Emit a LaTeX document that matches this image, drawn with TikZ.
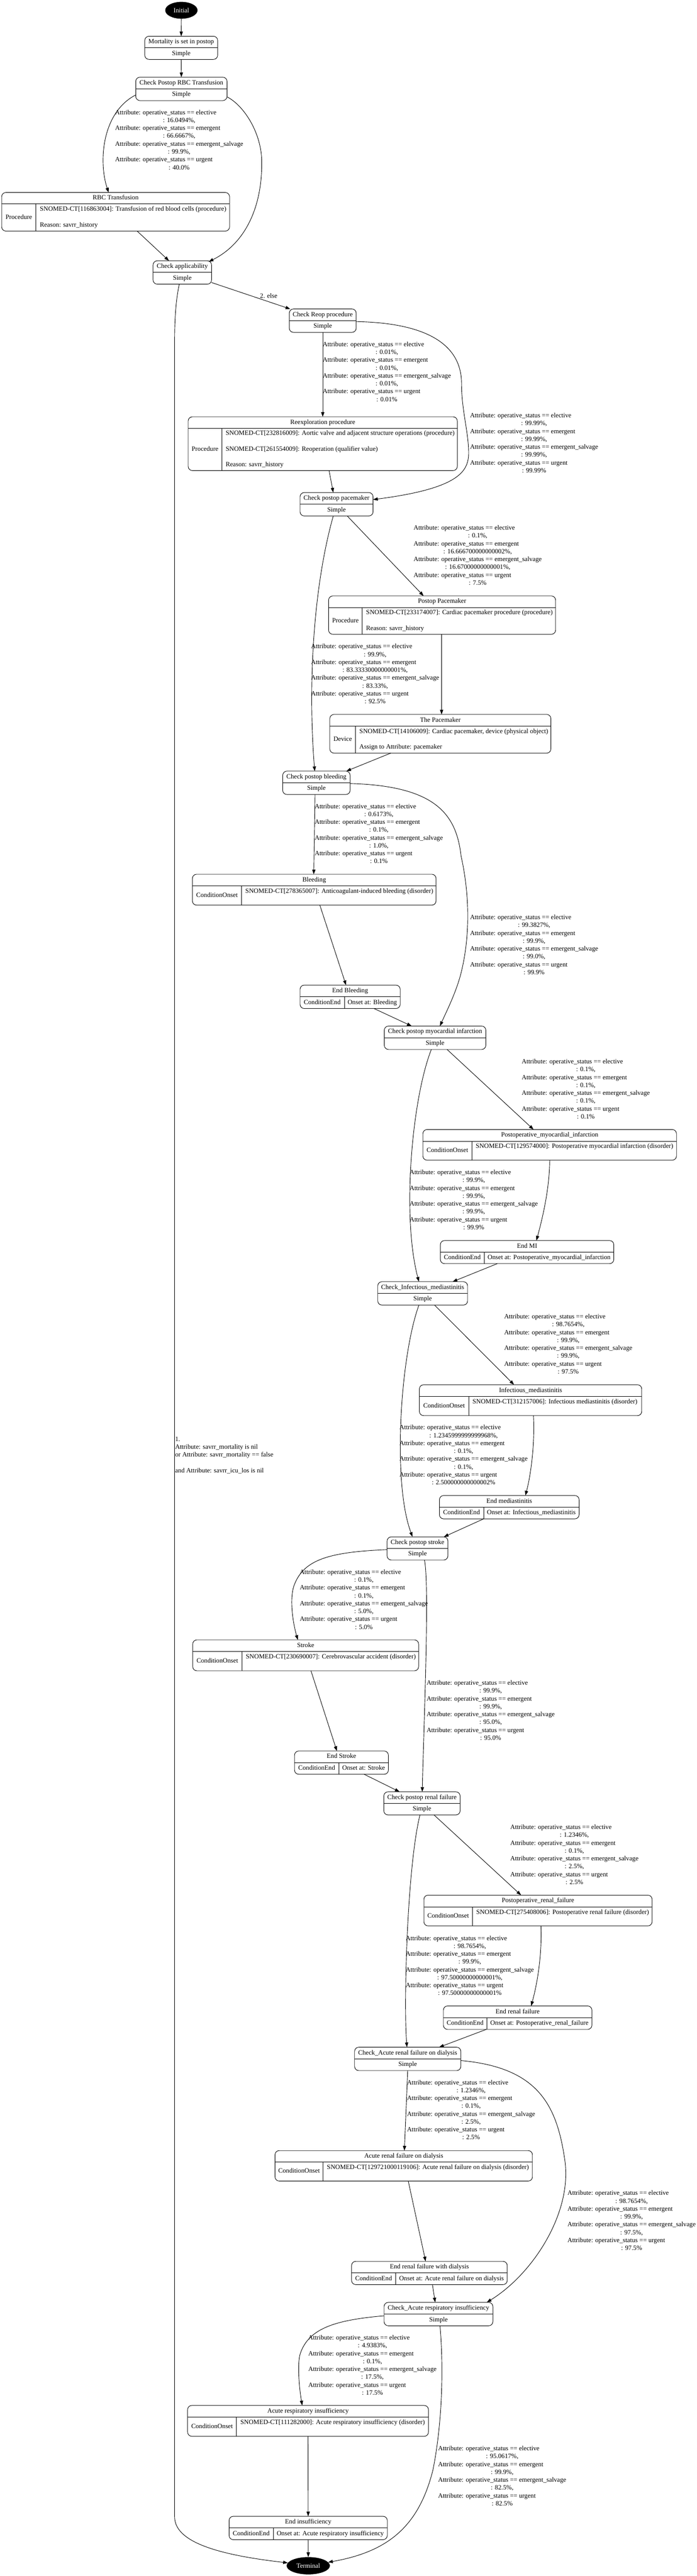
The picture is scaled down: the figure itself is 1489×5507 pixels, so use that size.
\documentclass[tikz,border=0pt]{standalone}
\usepackage{fontspec}
\setmainfont{Liberation Serif}
\usetikzlibrary{arrows.meta,shapes.geometric}

\tikzset{
  recbox/.style={draw, line width=1pt, rounded corners=9pt, inner sep=0pt, outer sep=0pt, rectangle},
  divline/.style={line width=1pt},
  txt/.style={inner sep=0pt, text height=11.76pt, text depth=5.04pt},
  lbl/.style={inner sep=0pt},
  conn/.style={line width=1pt, -{Triangle[length=10pt,width=7pt]}},
  termnode/.style={ellipse, fill=black, text=white, inner sep=0pt, outer sep=0pt},
}

% name, x1, x2, y1, ydiv, y2, title
\newcommand{\simplestate}[7]{%
  \node[recbox, minimum width={(#3-#2)*1pt}, minimum height={(#6-#4)*1pt}] (#1) at ({(#2+#3)/2},{(#4+#6)/2}) {};
  \draw[divline] (#2,#5) -- (#3,#5);
  \node[txt] (#1-title) at ({(#2+#3)/2},{(#4+#5)/2}) {#7};
  \node[txt] (#1-type) at ({(#2+#3)/2},{(#5+#6)/2}) {Simple};
}
% name, x1, x2, y1, ydiv, y2, xdiv, title, kind
\newcommand{\detailstate}[9]{%
  \node[recbox, minimum width={(#3-#2)*1pt}, minimum height={(#6-#4)*1pt}] (#1) at ({(#2+#3)/2},{(#4+#6)/2}) {};
  \draw[divline] (#2,#5) -- (#3,#5);
  \draw[divline] (#7,#5) -- (#7,#6);
  \node[txt] (#1-title) at ({(#2+#3)/2},{(#4+#5)/2}) {#8};
  \node[txt] (#1-kind) at ({(#2+#7)/2},{(#5+#6)/2}) {#9};
  \gdef\dsxdiv{#7}\gdef\dsydiv{#5}\gdef\dsytwo{#6}\gdef\dsxtwo{#3}%
}
\newcommand{\leftcontent}[2]{%
  \node[lbl, anchor=west] (#1) at ({\dsxdiv+8},{(\dsydiv+\dsytwo)/2}) {\begin{tabular}{@{}l@{}}#2\end{tabular}};}
\newcommand{\centercontent}[2]{%
  \node[txt] (#1) at ({(\dsxdiv+\dsxtwo)/2},{(\dsydiv+\dsytwo)/2}) {#2};}
% name, xleft, ycenter, four values
\newcommand{\opst}[7]{%
  \node[lbl, anchor=west] (#1) at (#2,#3) {\begin{tabular}{@{}l@{}}
    Attribute: operative\_status == elective\\
    \multicolumn{1}{@{}c@{}}{: #4,}\\
    Attribute: operative\_status == emergent\\
    \multicolumn{1}{@{}c@{}}{: #5,}\\
    Attribute: operative\_status == emergent\_salvage\\
    \multicolumn{1}{@{}c@{}}{: #6,}\\
    Attribute: operative\_status == urgent\\
    \multicolumn{1}{@{}c@{}}{: #7}
  \end{tabular}};}

\begin{document}
\begin{tikzpicture}[x=1pt, y=-1pt, font=\fontsize{14}{16.8}\selectfont]
\useasboundingbox (0,0) rectangle (1489,5507);
\fill[white] (0,0) rectangle (1489,5507);

% ---------- terminal nodes ----------
\node[termnode, minimum width=69pt, minimum height=36pt] (init) at (387.5,22) {Initial};
\node[termnode, minimum width=92.5pt, minimum height=37pt] (term) at (658.6,5485) {Terminal};

% ---------- simple states ----------
\simplestate{mort}{309.3}{465}{77.5}{102}{127}{Mortality is set in postop}
\simplestate{chkrbc}{290}{485}{165}{190}{215}{Check Postop RBC Transfusion}
\simplestate{chkapp}{327}{452}{557.5}{582.5}{607.5}{Check applicability}
\simplestate{chkreop}{618}{761}{660.5}{685.5}{710.5}{Check Reop procedure}
\simplestate{chkpace}{641}{797}{1053}{1078}{1103}{Check postop pacemaker}
\simplestate{chkbleed}{604}{748}{1648.5}{1673.5}{1698.5}{Check postop bleeding}
\simplestate{chkmi}{821}{1038}{2193.5}{2218.5}{2243.5}{Check postop myocardial infarction}
\simplestate{chkinf}{807}{999}{2740}{2765}{2790}{Check\_Infectious\_mediastinitis}
\simplestate{chkstroke}{827}{957}{3285.5}{3310.5}{3335}{Check postop stroke}
\simplestate{chkrenal}{820}{983}{3830.5}{3855.5}{3880}{Check postop renal failure}
\simplestate{chkarf}{757.5}{984.5}{4376.5}{4401.5}{4426.5}{Check\_Acute renal failure on dialysis}
\simplestate{chkresp}{820.5}{1053}{4922}{4947}{4972}{Check\_Acute respiratory insufficiency}

% ---------- detail states ----------
\detailstate{rbc}{3.6}{490.4}{411.5}{436}{494}{77}{RBC Transfusion}{Procedure}
\leftcontent{rbc-c}{SNOMED-CT[116863004]: Transfusion of red blood cells (procedure)\\ \\ Reason: savrr\_history}
\detailstate{reexp}{402}{977}{891}{915.7}{1006}{474}{Reexploration procedure}{Procedure}
\leftcontent{reexp-c}{SNOMED-CT[232816009]: Aortic valve and adjacent structure operations (procedure)\\ \\ SNOMED-CT[261554009]: Reoperation (qualifier value)\\ \\ Reason: savrr\_history}
\detailstate{ppace}{702}{1187}{1274}{1298.7}{1356}{774}{Postop Pacemaker}{Procedure}
\leftcontent{ppace-c}{SNOMED-CT[233174007]: Cardiac pacemaker procedure (procedure)\\ \\ Reason: savrr\_history}
\detailstate{thepace}{704.6}{1177}{1527.3}{1552.3}{1610}{759.7}{The Pacemaker}{Device}
\leftcontent{thepace-c}{SNOMED-CT[14106009]: Cardiac pacemaker, device (physical object)\\ \\ Assign to Attribute: pacemaker}
\detailstate{bleed}{411}{931.6}{1869}{1894}{1935}{516}{Bleeding}{ConditionOnset}
\leftcontent{bleed-c}{SNOMED-CT[278365007]: Anticoagulant-induced bleeding (disorder)\\ \mbox{}}
\detailstate{endbleed}{641}{855}{2106}{2130.7}{2156}{735.7}{End Bleeding}{ConditionEnd}
\centercontent{endbleed-c}{Onset at: Bleeding}
\detailstate{pmi}{903.4}{1445.3}{2414.7}{2439.6}{2480.2}{1008.3}{Postoperative\_myocardial\_infarction}{ConditionOnset}
\leftcontent{pmi-c}{SNOMED-CT[129574000]: Postoperative myocardial infarction (disorder)\\ \mbox{}}
\detailstate{endmi}{940.7}{1311.4}{2652}{2676.5}{2701.4}{1034.7}{End MI}{ConditionEnd}
\centercontent{endmi-c}{Onset at: Postoperative\_myocardial\_infarction}
\detailstate{inf}{896}{1371}{2960.3}{2985.6}{3026.3}{1001.3}{Infectious\_mediastinitis}{ConditionOnset}
\leftcontent{inf-c}{SNOMED-CT[312157006]: Infectious mediastinitis (disorder)\\ \mbox{}}
\detailstate{endinf}{938.8}{1237.2}{3197.1}{3222.4}{3247}{1033.2}{End mediastinitis}{ConditionEnd}
\centercontent{endinf-c}{Onset at: Infectious\_mediastinitis}
\detailstate{stroke}{411.7}{894.4}{3505.7}{3530.6}{3571.8}{517}{Stroke}{ConditionOnset}
\leftcontent{stroke-c}{SNOMED-CT[230690007]: Cerebrovascular accident (disorder)\\ \mbox{}}
\detailstate{endstroke}{629.2}{829.8}{3743.3}{3767.8}{3793}{723.9}{End Stroke}{ConditionEnd}
\centercontent{endstroke-c}{Onset at: Stroke}
\detailstate{prf}{905.6}{1393.1}{4051.4}{4076.7}{4117.2}{1009.4}{Postoperative\_renal\_failure}{ConditionOnset}
\leftcontent{prf-c}{SNOMED-CT[275408006]: Postoperative renal failure (disorder)\\ \mbox{}}
\detailstate{endrf}{947.2}{1264.6}{4288.3}{4313.5}{4338.4}{1040.3}{End renal failure}{ConditionEnd}
\centercontent{endrf-c}{Onset at: Postoperative\_renal\_failure}
\detailstate{arf}{587.5}{1137.5}{4597.5}{4621.6}{4662.6}{690.3}{Acute renal failure on dialysis}{ConditionOnset}
\leftcontent{arf-c}{SNOMED-CT[129721000119106]: Acute renal failure on dialysis (disorder)\\ \mbox{}}
\detailstate{endarf}{751}{1083.7}{4834.3}{4859}{4884}{845.4}{End renal failure with dialysis}{ConditionEnd}
\centercontent{endarf-c}{Onset at: Acute renal failure on dialysis}
\detailstate{ari}{400.8}{915.4}{5142.3}{5167.3}{5208.3}{505.4}{Acute respiratory insufficiency}{ConditionOnset}
\leftcontent{ari-c}{SNOMED-CT[111282000]: Acute respiratory insufficiency (disorder)\\ \mbox{}}
\detailstate{endari}{489.4}{827.4}{5379.3}{5404}{5429.3}{583.8}{End insufficiency}{ConditionEnd}
\centercontent{endari-c}{Onset at: Acute respiratory insufficiency}

% ---------- edge labels ----------
\opst{lrbc}{245.7}{300.2}{16.0494\%}{66.6667\%}{99.9\%}{40.0\%}
\opst{lreopd}{689.5}{796}{0.01\%}{0.01\%}{0.01\%}{0.01\%}
\opst{lreopr}{1004}{948.3}{99.99\%}{99.99\%}{99.99\%}{99.99\%}
\opst{lpacer}{883.5}{1188.3}{0.1\%}{16.666700000000002\%}{16.67000000000001\%}{7.5\%}
\opst{lpacel}{664.3}{1442}{99.9\%}{83.33330000000001\%}{83.33\%}{92.5\%}
\opst{lbleedd}{672.4}{1783.7}{0.6173\%}{0.1\%}{1.0\%}{0.1\%}
\opst{lbleedr}{1004}{2021}{99.3827\%}{99.9\%}{99.0\%}{99.9\%}
\opst{lmir}{1114.5}{2329.5}{0.1\%}{0.1\%}{0.1\%}{0.1\%}
\opst{lmil}{875.1}{2566.3}{99.9\%}{99.9\%}{99.9\%}{99.9\%}
\opst{linfr}{1077}{2874.6}{98.7654\%}{99.9\%}{99.9\%}{97.5\%}
\opst{linfl}{853.3}{3111.7}{1.2345999999999968\%}{0.1\%}{0.1\%}{2.500000000000002\%}
\opst{lstrokel}{640.3}{3420.7}{0.1\%}{0.1\%}{5.0\%}{5.0\%}
\opst{lstroker}{911.2}{3657.6}{99.9\%}{99.9\%}{95.0\%}{95.0\%}
\opst{lrenalr}{1090.1}{3966.1}{1.2346\%}{0.1\%}{2.5\%}{2.5\%}
\opst{lrenall}{866.7}{4203.5}{98.7654\%}{99.9\%}{97.50000000000001\%}{97.50000000000001\%}
\opst{larfd}{869.4}{4511.8}{1.2346\%}{0.1\%}{2.5\%}{2.5\%}
\opst{larfr}{1212.3}{4748.3}{98.7654\%}{99.9\%}{97.5\%}{97.5\%}
\opst{lrespl}{658.7}{5057.5}{4.9383\%}{0.1\%}{17.5\%}{17.5\%}
\opst{lrespr}{935.8}{5294.3}{95.0617\%}{99.9\%}{82.5\%}{82.5\%}
\node[txt] (lelse) at (574,634) {2. else};
\node[lbl, anchor=west] (lapp) at (374,3111.3) {\begin{tabular}{@{}l@{}}1.\\ Attribute: savrr\_mortality is nil\\ or Attribute: savrr\_mortality == false\\ \\ and Attribute: savrr\_icu\_los is nil\end{tabular}};

% ---------- connectors ----------
\draw[conn] (init.south) -- (mort.north);
\draw[conn] (mort.south) -- (chkrbc.north);
\draw[conn] ([yshift=-13pt]chkrbc.west) .. controls (218,240) and (210,345) .. ([xshift=-15pt]rbc.north);
\draw[conn] ([yshift=-17pt]chkrbc.east) .. controls (520,225) and (556,280) .. (559,339) .. controls (562,440) and (525,520) .. ([xshift=-6pt,yshift=-2pt]chkapp.north east);
\draw[conn] ([xshift=46pt]rbc.south) -- ([xshift=-28.5pt]chkapp.north);
\draw[conn] ([yshift=-21.5pt]chkapp.east) -- ([xshift=2pt]chkreop.north west);
\draw[conn] ([xshift=-6.5pt]chkapp.south) .. controls (376,640) and (373,680) .. (373,730) -- (373,5380) .. controls (373,5430) and (450,5460) .. (term.172);
\draw[conn] (chkreop.south) -- (reexp.north);
\draw[conn] ([yshift=-2pt]chkreop.east) .. controls (900,690) and (986,730) .. (986,820) .. controls (986,880) and (1003,930) .. (1001,975) .. controls (998,1010) and (975,1045) .. ([yshift=10pt]chkpace.east);
\draw[conn] ([xshift=13.5pt]reexp.south) -- ([xshift=-7pt]chkpace.north);
\draw[conn] ([xshift=22.8pt]chkpace.south) -- ([xshift=-39.5pt]ppace.north);
\draw[conn] ([xshift=-7pt]chkpace.south) .. controls (668,1260) and (658,1470) .. ([xshift=-3.6pt]chkbleed.north);
\draw[conn] ([xshift=-1pt]ppace.south) -- ([xshift=2.6pt]thepace.north);
\draw[conn] ([xshift=-106pt]thepace.south) -- ([xshift=-8pt]chkbleed.north east);
\draw[conn] ([xshift=-3pt]chkbleed.south) -- ([xshift=-1pt]bleed.north);
\draw[conn] ([xshift=12pt]bleed.south) -- ([xshift=-8.7pt]endbleed.north);
\draw[conn] ([yshift=-1.5pt]chkbleed.east) .. controls (930,1680) and (975,1740) .. (985,1830) .. controls (1003,1910) and (1005,2000) .. (985,2080) .. controls (975,2120) and (955,2160) .. ([xshift=10.3pt]chkmi.north);
\draw[conn] ([xshift=51pt]endbleed.south) -- ([xshift=-50pt]chkmi.north);
\draw[conn] ([xshift=25.6pt]chkmi.south) -- ([xshift=-34.5pt]pmi.north);
\draw[conn] ([xshift=-8pt]chkmi.south) .. controls (880,2350) and (858,2600) .. ([xshift=-8pt]chkinf.north);
\draw[conn] (pmi.south) .. controls (1174,2540) and (1160,2600) .. ([xshift=20pt]endmi.north);
\draw[conn] ([xshift=-63.6pt]endmi.south) -- ([xshift=64pt]chkinf.north);
\draw[conn] ([xshift=25.5pt]chkinf.south) -- ([xshift=-35.3pt]inf.north);
\draw[conn] ([xshift=-8pt]chkinf.south) .. controls (855,2900) and (838,3170) .. ([xshift=-10.6pt]chkstroke.north);
\draw[conn] ([xshift=6.2pt]inf.south) .. controls (1143,3080) and (1135,3150) .. ([xshift=34.4pt]endinf.north);
\draw[conn] ([xshift=-54.8pt]endinf.south) -- ([xshift=56.3pt]chkstroke.north);
\draw[conn] ([yshift=-2.5pt]chkstroke.west) .. controls (700,3318) and (648,3335) .. (628,3390) .. controls (618,3420) and (626,3470) .. ([xshift=-16.8pt]stroke.north);
\draw[conn] ([xshift=14.9pt]chkstroke.south) .. controls (918,3390) and (905,3700) .. ([xshift=0.6pt]chkrenal.north);
\draw[conn] ([xshift=11.3pt]stroke.south) -- ([xshift=-9.8pt]endstroke.north);
\draw[conn] ([xshift=48.4pt]endstroke.south) -- ([xshift=-47.8pt]chkrenal.north);
\draw[conn] ([xshift=25.8pt]chkrenal.south) -- ([xshift=-36.2pt]prf.north);
\draw[conn] ([xshift=-4.3pt]chkrenal.south) .. controls (870,3990) and (862,4280) .. ([xshift=-1.6pt]chkarf.north);
\draw[conn] ([xshift=6.3pt]prf.south) .. controls (1158,4180) and (1148,4240) .. ([xshift=28.8pt]endrf.north);
\draw[conn] ([xshift=-67pt]endrf.south) -- ([xshift=67.2pt]chkarf.north);
\draw[conn] (chkarf.south) -- ([xshift=1.4pt]arf.north);
\draw[conn] ([yshift=-3.5pt]chkarf.east) .. controls (1150,4420) and (1190,4500) .. (1207,4620) .. controls (1222,4730) and (1140,4860) .. ([xshift=-13pt]chkresp.north east);
\draw[conn] ([xshift=9.7pt]arf.south) -- ([xshift=-8pt]endarf.north);
\draw[conn] ([xshift=6.5pt]endarf.south) -- ([xshift=-7pt]chkresp.north);
\draw[conn] ([yshift=-3.7pt]chkresp.west) .. controls (710,4960) and (660,4980) .. (642,5030) .. controls (634,5052) and (640,5110) .. ([xshift=-12.4pt]ari.north);
\draw[conn] ([xshift=3.2pt]chkresp.south) .. controls (948,5060) and (945,5180) .. (925,5280) .. controls (895,5400) and (830,5455) .. (term.10);
\draw[conn] (ari.south) -- (endari.north);
\draw[conn] (endari.south) -- (term.north);
\end{tikzpicture}
\end{document}
